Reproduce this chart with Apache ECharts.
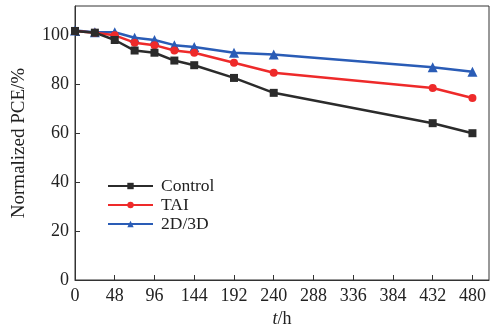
<!DOCTYPE html>
<html><head><meta charset="utf-8">
<script src="https://cdn.jsdelivr.net/npm/echarts@6/dist/echarts.min.js"></script>
<style>html,body{margin:0;padding:0;background:#fff}#c{width:491px;height:326px}</style>
</head><body><div id="c"></div>
<script>
const hours = [0, 24, 48, 72, 96, 120, 144, 192, 240, 432, 480];
const control = [101.8, 101.1, 98.1, 93.8, 92.9, 89.7, 87.8, 82.6, 76.5, 64.1, 60.0];
const tai = [101.8, 101.1, 100.0, 97.0, 96.0, 93.8, 92.9, 88.8, 84.7, 78.5, 74.4];
const d2d3d = [102.0, 101.3, 101.3, 99.0, 98.1, 96.0, 95.2, 92.9, 92.2, 87.0, 85.1];
const seriesNames = ['Control', 'TAI', '2D/3D'];
const colors = ['#2b2b2b', '#ee2a2a', '#2a5cb6'];
const symbols = ['rect', 'circle', 'triangle'];
const values = [control, tai, d2d3d];

const font = 'Liberation Serif';
const chart = echarts.init(document.getElementById('c'), null, {renderer: 'canvas'});
chart.setOption({
  animation: false,
  backgroundColor: '#fff',
  grid: {left: 75, right: 2, top: 6, bottom: 46, show: true, borderColor: '#333', borderWidth: 1,
         containLabel: false, outerBoundsMode: 'none'},
  legend: {
    left: 102, top: 172, orient: 'vertical', itemWidth: 45, itemHeight: 8, itemGap: 1,
    textStyle: {fontFamily: font, fontSize: 17.5, color: '#222', padding: [0,0,0,3]},
    data: seriesNames
  },
  xAxis: {
    type: 'value', min: 0, max: 500, interval: 48,
    name: '{i|t}/h', nameLocation: 'middle', nameGap: 30,
    nameTextStyle: {fontFamily: font, fontSize: 18, color: '#222', rich: {i: {fontFamily: font, fontSize: 18, fontStyle: 'italic', color: '#222'}}},
    axisLine: {show: true, lineStyle: {color: '#333', width: 1}},
    axisTick: {show: true, inside: true, length: 5, lineStyle: {color: '#333'}},
    axisLabel: {fontFamily: font, fontSize: 18, color: '#222', margin: 7, showMaxLabel: false},
    splitLine: {show: false}
  },
  yAxis: {
    type: 'value', min: 0, max: 112, interval: 20,
    name: 'Normalized PCE/%', nameLocation: 'middle', nameGap: 46,
    nameTextStyle: {fontFamily: font, fontSize: 19, color: '#222'},
    axisLine: {show: true, lineStyle: {color: '#333', width: 1}},
    axisTick: {show: true, inside: true, length: 5, lineStyle: {color: '#333'}},
    axisLabel: {fontFamily: font, fontSize: 18, color: '#222', margin: 6, showMaxLabel: false},
    splitLine: {show: false}
  },
  series: seriesNames.map((n, i) => ({
    name: n, type: 'line',
    data: hours.map((h, j) => [h, values[i][j]]),
    symbol: symbols[i], symbolSize: i === 2 ? 10 : 8,
    lineStyle: {color: colors[i], width: 2.5},
    itemStyle: {color: colors[i]},
    z: 3 - i
  }))
});
</script></body></html>
